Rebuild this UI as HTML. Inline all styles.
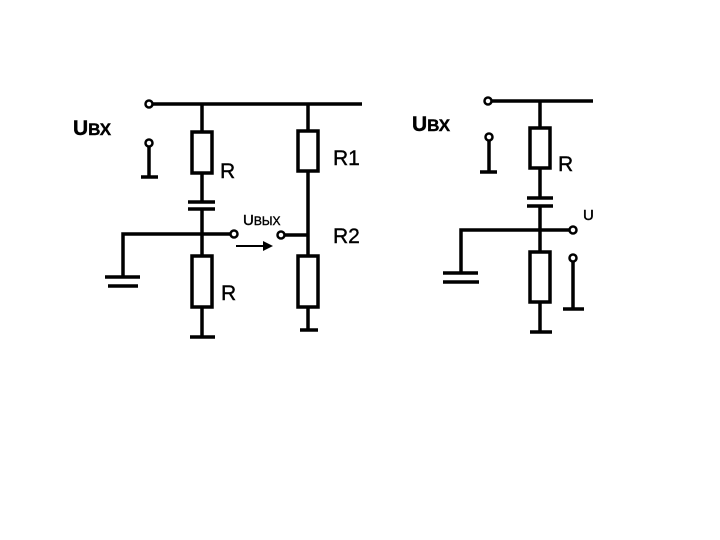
<!DOCTYPE html>
<html><head><meta charset="utf-8"><style>body{margin:0;background:#fff}svg{display:block}</style></head><body>
<svg width="720" height="540" viewBox="0 0 720 540" xmlns="http://www.w3.org/2000/svg">
<rect width="720" height="540" fill="#fff"/>
<g stroke="#000" stroke-width="3.5" fill="none">
<!-- left circuit -->
<line x1="152" y1="104" x2="362" y2="104"/>
<circle cx="149" cy="104" r="3.5" fill="#fff" stroke-width="2.5"/>
<line x1="202" y1="104" x2="202" y2="202"/>
<rect x="192" y="132" width="20" height="41" fill="#fff"/>
<line x1="188" y1="202" x2="215" y2="202"/>
<line x1="188" y1="209" x2="215" y2="209"/>
<line x1="202" y1="209" x2="202" y2="337"/>
<rect x="192" y="256" width="20" height="51" fill="#fff"/>
<line x1="190" y1="337" x2="215" y2="337"/>
<polyline points="230,234 123,234 123,277"/>
<line x1="105" y1="277" x2="140" y2="277"/>
<line x1="108" y1="286" x2="138" y2="286"/>
<circle cx="234" cy="234" r="3.5" fill="#fff" stroke-width="2.5"/>
<circle cx="149" cy="143" r="3.5" fill="#fff" stroke-width="2.5"/>
<line x1="149" y1="147" x2="149" y2="177"/>
<line x1="141" y1="177" x2="158" y2="177"/>
<line x1="308" y1="104" x2="308" y2="330"/>
<rect x="298" y="131" width="20" height="40" fill="#fff"/>
<rect x="298" y="256" width="20" height="51" fill="#fff"/>
<line x1="300" y1="330" x2="318" y2="330"/>
<line x1="284" y1="235" x2="308" y2="235"/>
<circle cx="281" cy="235" r="3.5" fill="#fff" stroke-width="2.5"/>
<line x1="236" y1="246" x2="266" y2="246" stroke-width="2"/>
<!-- right circuit -->
<line x1="491" y1="101" x2="593" y2="101"/>
<circle cx="488" cy="101" r="3.5" fill="#fff" stroke-width="2.5"/>
<line x1="540" y1="101" x2="540" y2="198"/>
<rect x="530" y="128" width="20" height="40" fill="#fff"/>
<line x1="527" y1="198" x2="553" y2="198"/>
<line x1="527" y1="206" x2="553" y2="206"/>
<line x1="540" y1="206" x2="540" y2="332"/>
<rect x="530" y="252" width="20" height="50" fill="#fff"/>
<line x1="530" y1="332" x2="552" y2="332"/>
<polyline points="569,230 461,230 461,273"/>
<line x1="443" y1="273" x2="478" y2="273"/>
<line x1="443" y1="282" x2="479" y2="282"/>
<circle cx="573" cy="230" r="3.5" fill="#fff" stroke-width="2.5"/>
<circle cx="489" cy="137" r="3.5" fill="#fff" stroke-width="2.5"/>
<line x1="489" y1="141" x2="489" y2="172"/>
<line x1="480" y1="172" x2="497" y2="172"/>
<circle cx="573" cy="258" r="3.5" fill="#fff" stroke-width="2.5"/>
<line x1="573" y1="262" x2="573" y2="309"/>
<line x1="563" y1="309" x2="584" y2="309"/>
</g>
<polygon points="273,246 263,241 263,251" fill="#000"/>
<g font-family="Liberation Sans, sans-serif" fill="#000" stroke="#000" stroke-width="0.4">
<text x="73" y="135" font-size="21" font-weight="bold">U<tspan font-size="17">ВХ</tspan></text>
<text x="220" y="178" font-size="21">R</text>
<text x="333" y="165" font-size="21">R1</text>
<text x="243" y="225" font-size="15">U<tspan font-size="12">ВЫХ</tspan></text>
<text x="333" y="243" font-size="21">R2</text>
<text x="221" y="300" font-size="21">R</text>
<text x="412" y="131" font-size="21" font-weight="bold">U<tspan font-size="17">ВХ</tspan></text>
<text x="558" y="171" font-size="21">R</text>
<text x="583" y="220" font-size="15">U</text>
</g>
</svg>
</body></html>
